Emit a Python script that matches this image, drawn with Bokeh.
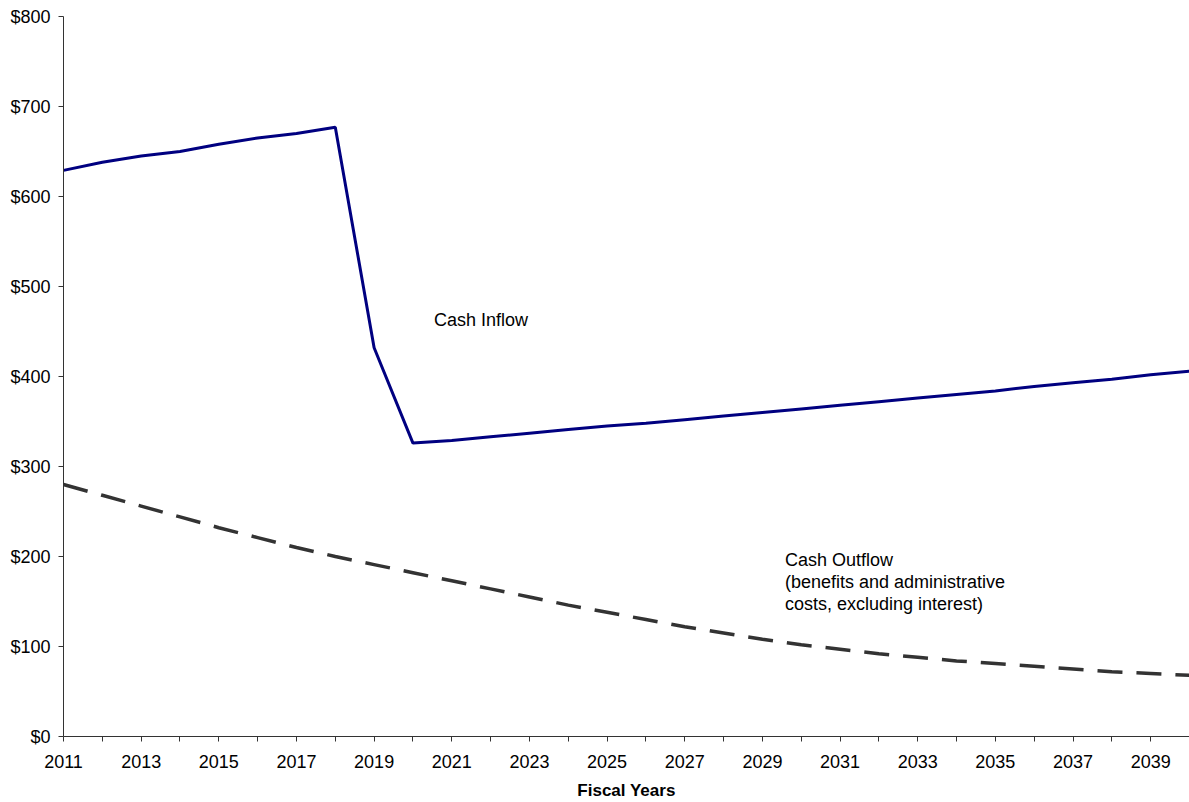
from bokeh.plotting import figure
from bokeh.models import FixedTicker, NumeralTickFormatter, Label, Range1d
from bokeh.embed import file_html
from bokeh.resources import INLINE

years = list(range(2011, 2041))
cash_inflow = [629, 638, 645, 650, 658, 665, 670, 677, 432, 326,
               329, 333, 337, 341, 345, 348, 352, 356, 360, 364,
               368, 372, 376, 380, 384, 389, 393, 397, 402, 406]
cash_outflow = [280, 268, 256, 244, 232, 221, 210, 200, 191, 182,
                173, 164, 155, 146, 138, 130, 122, 115, 108, 102,
                97, 92, 88, 84, 81, 78, 75, 72, 70, 68]
x_tick_labels = list(range(2011, 2040, 2))
x_minor = list(range(2012, 2041, 2))
y_ticks = list(range(0, 801, 100))
x_title = "Fiscal Years"
inflow_label = "Cash Inflow"
outflow_label = ["Cash Outflow", "(benefits and administrative", "costs, excluding interest)"]

FONT = "Liberation Sans"

p = figure(width=1189, height=802, output_backend="svg", toolbar_location=None,
           x_range=Range1d(2011, 2040), y_range=Range1d(0, 800),
           min_border_left=63, min_border_right=0, min_border_top=16, min_border_bottom=66)
p.outline_line_color = None
p.xgrid.visible = False
p.ygrid.visible = False
p.background_fill_color = "white"

p.line(years, cash_inflow, line_color="#000080", line_width=3)
p.line(years, cash_outflow, line_color="#333333", line_width=3.5, line_dash="25 14")

# axes
p.xaxis.ticker = FixedTicker(ticks=x_tick_labels, minor_ticks=x_minor)
p.yaxis.ticker = FixedTicker(ticks=y_ticks, minor_ticks=[])
p.yaxis.formatter = NumeralTickFormatter(format="$0")
for ax in (p.xaxis[0], p.yaxis[0]):
    ax.axis_line_color = "#333333"
    ax.axis_line_width = 1
    ax.major_tick_line_color = "#333333"
    ax.minor_tick_line_color = "#333333"
    ax.major_tick_in = 0
    ax.major_tick_out = 5
    ax.minor_tick_in = 0
    ax.minor_tick_out = 5
    ax.major_label_text_font = FONT
    ax.major_label_text_font_size = "18px"
    ax.major_label_text_color = "black"
p.yaxis.major_label_standoff = 8
p.xaxis.major_label_standoff = 13
p.xaxis.axis_label = x_title
p.xaxis.axis_label_text_font = FONT
p.xaxis.axis_label_text_font_size = "17px"
p.xaxis.axis_label_text_font_style = "bold"
p.xaxis.axis_label_text_color = "black"
p.xaxis.axis_label_standoff = 10

p.add_layout(Label(x=2020.54, y=462.6, text=inflow_label, text_font=FONT,
                   text_font_size="18px", text_baseline="middle", text_color="black"))
for i, t in enumerate(outflow_label):
    p.add_layout(Label(x=2029.58, y=195.6 - i * 24.1, text=t, text_font=FONT,
                       text_font_size="18px", text_baseline="middle", text_color="black"))

open("out.html", "w").write(file_html(p, INLINE))
